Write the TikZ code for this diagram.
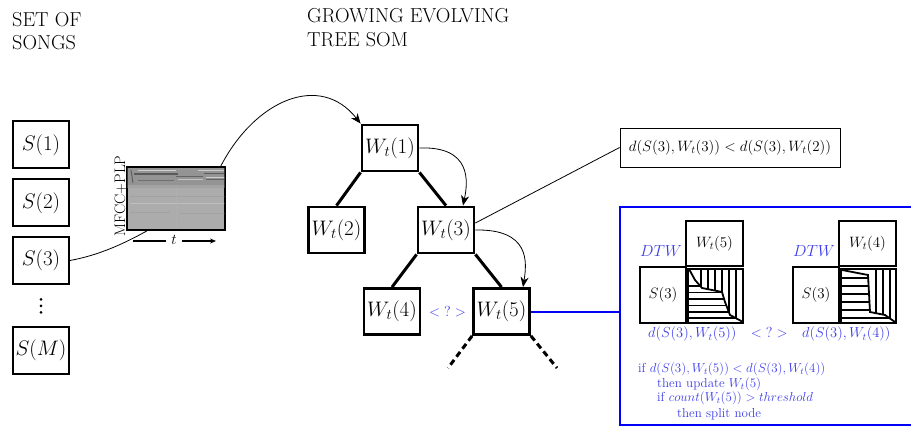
\RequirePackage{fix-cm}
\documentclass[tikz,border=0pt]{standalone}
\usetikzlibrary{arrows.meta}
\definecolor{cmpblue}{RGB}{60,60,235}
\definecolor{linkblue}{RGB}{0,0,245}
\definecolor{specgray}{RGB}{172,172,172}
\begin{document}
\begin{tikzpicture}[x=1pt,y=-1pt,
  head/.style={font=\fontsize{20.2}{23}\selectfont, anchor=base west, inner sep=0pt},
  song/.style={draw, line width=2pt, minimum width=56pt, minimum height=47pt, inner sep=0pt,
    font=\fontsize{21}{25}\selectfont},
  som/.style={draw, line width=2.8pt, minimum width=56pt, minimum height=46pt, inner sep=0pt,
    font=\fontsize{21}{25}\selectfont},
  treeedge/.style={line width=3pt},
  openedge/.style={line width=3pt, dash pattern=on 6pt off 4pt},
  flow/.style={line width=0.8pt, -{Stealth[length=10pt,width=8pt,inset=3pt]}},
  thinlink/.style={line width=0.8pt},
  smallbox/.style={draw, line width=1.8pt, inner sep=0pt, font=\fontsize{15}{18}\selectfont},
  hatch/.style={line width=1.5pt},
  bluetxt/.style={text=cmpblue, inner sep=0pt},
]
\useasboundingbox (0,0) rectangle (911,427);

% headings
\node[head] (h1a) at (12,27) {SET OF};
\node[head] (h1b) at (12,50) {SONGS};
\node[head] (h2a) at (307,23) {GROWING EVOLVING};
\node[head] (h2b) at (307,47) {TREE SOM};

% set of songs
\node[song] (S1) at (41,145) {$S(1)$};
\node[song] (S2) at (41,203) {$S(2)$};
\node[song] (S3) at (41,260.5) {$S(3)$};
\node[song] (SM) at (41,350.5) {$S(M)$};
\foreach \yy in {299.5,306,312.5}
  \fill (41,\yy) circle (1.5pt);

% feature matrix (spectrogram)
\node[draw, line width=1.4pt, fill=specgray, minimum width=98pt, minimum height=63pt,
  inner sep=0pt] (spec) at (176,198.5) {};
\begin{scope}
  \clip (127.7,167.7) rectangle (224.3,229.3);
  \fill[black!42] (127,168) rectangle (225,185);
  \fill[black!36] (127,185) rectangle (225,188);
  \draw[black!12, line width=0.9pt, opacity=0.8] (138,170.5) -- (176,170.5);
  \draw[black!15, line width=0.9pt, opacity=0.8] (198,170.5) -- (224,170.5);
  \draw[black!70, line width=1.1pt, opacity=0.8] (134,174) -- (178,174);
  \draw[black!65, line width=1pt, opacity=0.8] (176,176.5) -- (203,176.5);
  \draw[black!70, line width=1pt, opacity=0.8] (204,173.5) -- (225,173.5);
  \draw[black!18, line width=0.8pt, opacity=0.8] (178,179.5) -- (203,179.5);
  \draw[black!15, line width=0.8pt, opacity=0.8] (206,177) -- (225,177);
  \draw[black!60, line width=1pt, opacity=0.8] (138,180.5) -- (174,180.5);
  \draw[black!65, line width=1pt, opacity=0.8] (206,180) -- (225,180);
  \draw[black!70, line width=0.9pt, opacity=0.8] (131,170) -- (133,183);
  \draw[black!38, line width=0.5pt, opacity=0.7] (130,196) -- (225,196);
  \draw[black!22, line width=0.5pt, opacity=0.7] (130,203) -- (225,203);
  \draw[black!38, line width=0.5pt, opacity=0.7] (130,212) -- (170,212);
  \draw[black!38, line width=0.5pt, opacity=0.7] (180,213) -- (225,213);
  \draw[black!30, line width=0.5pt, opacity=0.6] (176,188) -- (176,228);
\end{scope}
\node[rotate=90, anchor=base, inner sep=0pt, font=\fontsize{15.2}{18}\selectfont]
  (feat) at (125,196) {MFCC+PLP};
\node[inner sep=0pt, font=\fontsize{15}{18}\selectfont] (tlab) at (174,239.5) {$t$};
\coordinate (taxL) at (133,241);
\coordinate (taxR) at (216,241);
\draw[line width=1.6pt] (taxL) -- ([xshift=-5pt]tlab.west |- taxL);
\draw[line width=1.6pt, -{Stealth[length=6pt,width=5pt]}] ([xshift=5pt]tlab.east |- taxR) -- (taxR);

% tree
\node[som] (W1) at (390,148) {$W_t(1)$};
\node[som] (W2) at (336.5,230) {$W_t(2)$};
\node[som] (W3) at (446,230) {$W_t(3)$};
\node[som] (W4) at (392,311.5) {$W_t(4)$};
\node[som] (W5) at (501.5,311.5) {$W_t(5)$};
\coordinate (cut1) at (448,368);
\coordinate (cut2) at (557,368);
\draw[treeedge] (W1.south west) -- (W2.north);
\draw[treeedge] (W1.south east) -- (W3.north);
\draw[treeedge] (W3.south west) -- (W4.north);
\draw[treeedge] (W3.south east) -- (W5.north);
\draw[openedge] (W5.south west) -- (cut1);
\draw[openedge] (W5.south east) -- (cut2);
\node[bluetxt, anchor=base, font=\fontsize{14.5}{17}\selectfont] (q1) at (447.5,317) {${<}\;?\;{>}$};

% connectors
\draw[thinlink] (S3.east) .. controls (100,255) and (125,243) .. ([xshift=21pt]spec.south west);
\draw[flow] ([xshift=-5pt]spec.north east) .. controls (255,100) and (320,72) .. (W1.north west);
\draw[flow] (W1.east) .. controls (472,146) and (468,182) .. ([xshift=17pt]W3.north);
\draw[flow] (W3.east) .. controls (530,229) and (527,262) .. ([xshift=21.5pt]W5.north);

% winner test
\node[draw, line width=0.8pt, minimum width=220pt, minimum height=39pt, inner sep=0pt,
  font=\fontsize{15}{18}\selectfont] (dbox) at (730,147.5) {$d(S(3),W_t(3)) < d(S(3),W_t(2))$};
\draw[thinlink] ([yshift=7pt]W3.east) -- (dbox.west);

% comparison panel
\node[draw=linkblue, line width=1.1pt, minimum width=296pt, minimum height=218pt,
  inner sep=0pt] (cmp) at (768,316) {};
\draw[draw=linkblue, line width=1.6pt] ([yshift=-0.5pt]W5.east) -- ([yshift=-0.5pt]W5.east -| cmp.west);

% left DTW grid
\node[smallbox, minimum width=57pt, minimum height=45pt] (gW5) at (714.5,243.5) {$W_t(5)$};
\node[smallbox, minimum width=46pt, minimum height=56pt] (gS3a) at (663,295) {$S(3)$};
\node[smallbox, minimum width=55pt, minimum height=54pt] (gMa) at (715.5,296) {};
\begin{scope}
  \clip (689,269) -- (695,280) -- (702,288) -- (722,292) -- (725,302) -- (730,315) -- (743,322)
    -- (744,268) -- cycle;
  \foreach \xx in {701,708,715,722,729,736}
    \draw[hatch] (\xx,268) -- (\xx,324);
\end{scope}
\begin{scope}
  \clip (689,269) -- (695,280) -- (702,288) -- (722,292) -- (725,302) -- (730,315) -- (743,322)
    -- (743,324) -- (688,324) -- cycle;
  \foreach \yy in {286,292.5,299,305.5,312,318}
    \draw[hatch] (688,\yy) -- (744,\yy);
\end{scope}
\draw[line width=1.8pt] (689,269) -- (695,280) -- (702,288) -- (722,292) -- (725,302)
  -- (730,315) -- (743,322);
\node[bluetxt, anchor=base west, font=\fontsize{16}{19}\selectfont] (dtwA) at (640,257) {$DTW$};

% right DTW grid
\node[smallbox, minimum width=57pt, minimum height=45pt] (gW4) at (867.5,243.5) {$W_t(4)$};
\node[smallbox, minimum width=46pt, minimum height=56pt] (gS3b) at (816,295) {$S(3)$};
\node[smallbox, minimum width=55pt, minimum height=54pt] (gMb) at (868.5,296) {};
\begin{scope}
  \clip (842,270) -- (868,275) -- (870,312) -- (885,315) -- (895,322) -- (897,268) -- cycle;
  \foreach \xx in {876,883,890}
    \draw[hatch] (\xx,268) -- (\xx,324);
\end{scope}
\begin{scope}
  \clip (842,270) -- (868,275) -- (870,312) -- (885,315) -- (895,322) -- (895,324)
    -- (841,324) -- cycle;
  \foreach \yy in {278,286,294,302,310,318}
    \draw[hatch] (841,\yy) -- (897,\yy);
\end{scope}
\draw[line width=1.8pt] (842,270) -- (868,275) -- (870,312) -- (885,315) -- (895,322);
\node[bluetxt, anchor=base west, font=\fontsize{16}{19}\selectfont] (dtwB) at (793,257) {$DTW$};

% comparison and update rule
\node[bluetxt, anchor=base west, font=\fontsize{14.5}{17}\selectfont] (cmpexpr) at (648,338)
  {$d(S(3),W_t(5))\quad{<}\;?\;{>}\quad d(S(3),W_t(4))$};
\node[bluetxt, anchor=base west, font=\fontsize{13}{15}\selectfont] (r1) at (638,373)
  {if $d(S(3),W_t(5)) < d(S(3),W_t(4))$};
\node[bluetxt, anchor=base west, font=\fontsize{13}{15}\selectfont] (r2) at (657,387.5)
  {then update $W_t(5)$};
\node[bluetxt, anchor=base west, font=\fontsize{13}{15}\selectfont] (r3) at (657,401.5)
  {if $count(W_t(5)) > threshold$};
\node[bluetxt, anchor=base west, font=\fontsize{13}{15}\selectfont] (r4) at (677,417.5)
  {then split node};
\end{tikzpicture}
\end{document}
